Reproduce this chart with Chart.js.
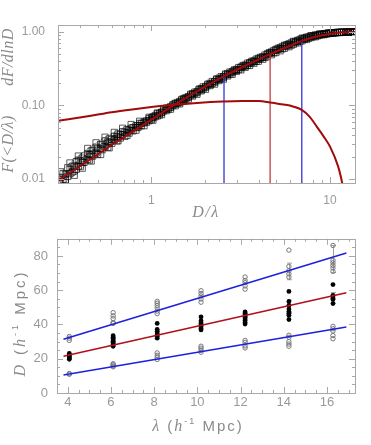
<!DOCTYPE html>
<html>
<head>
<meta charset="utf-8">
<script src="https://cdn.jsdelivr.net/npm/chart.js@4.4.1/dist/chart.umd.min.js"></script>
<style>
  body { margin: 0; background: #fff; }
  canvas { display: block; }
</style>
</head>
<body>
<canvas id="cdfChart" width="371" height="222"></canvas>
<canvas id="sizeChart" width="371" height="223"></canvas>
<script>
// ---- top panel: cumulative distribution of D/lambda ----
const gridA = [0.31, 0.35, 0.39, 0.44, 0.49, 0.55, 0.62, 0.69, 0.77, 0.86, 0.97, 1.08, 1.21, 1.36, 1.52, 1.70, 1.90, 2.13, 2.39, 2.67, 2.99, 3.35, 3.75, 4.20, 4.70, 5.26, 5.89, 6.60, 7.39, 8.27, 9.26, 10.4, 11.6, 13.0];
const gridB = [0.33, 0.37, 0.41, 0.46, 0.52, 0.58, 0.65, 0.73, 0.82, 0.91, 1.02, 1.14, 1.28, 1.44, 1.61, 1.80, 2.01, 2.26, 2.53, 2.83, 3.17, 3.55, 3.97, 4.45, 4.98, 5.57, 6.24, 6.98, 7.82, 8.76, 9.81, 11.0, 12.3, 13.7];
const gridC = [0.32, 0.36, 0.40, 0.45, 0.50, 0.57, 0.64, 0.71, 0.79, 0.88, 1.00, 1.11, 1.24, 1.40, 1.56, 1.75, 1.95, 2.19, 2.46, 2.75, 3.08, 3.45, 3.86, 4.32, 4.84, 5.41, 6.06, 6.79, 7.60, 8.51, 9.53, 10.7, 11.9, 13.4];
const gridD = [0.34, 0.38, 0.42, 0.47, 0.53, 0.60, 0.67, 0.75, 0.84, 0.94, 1.05, 1.17, 1.32, 1.48, 1.66, 1.85, 2.07, 2.32, 2.60, 2.91, 3.26, 3.65, 4.08, 4.58, 5.12, 5.73, 6.42, 7.18, 8.04, 9.01, 10.1, 11.3, 12.7, 13.6];

const mock1 = [0.0105, 0.0135, 0.018, 0.022, 0.027, 0.033, 0.038, 0.044, 0.049, 0.057, 0.066, 0.077, 0.090, 0.105, 0.124, 0.145, 0.170, 0.200, 0.235, 0.272, 0.31, 0.355, 0.405, 0.46, 0.535, 0.61, 0.69, 0.77, 0.85, 0.91, 0.95, 0.98, 0.995, 1.0];
const mock2 = [0.0092, 0.0118, 0.0150, 0.0185, 0.0225, 0.0275, 0.034, 0.040, 0.046, 0.053, 0.062, 0.072, 0.085, 0.099, 0.115, 0.134, 0.158, 0.186, 0.218, 0.252, 0.29, 0.33, 0.375, 0.425, 0.49, 0.555, 0.63, 0.71, 0.79, 0.86, 0.92, 0.96, 0.985, 0.998];
const mock3 = [0.0125, 0.0165, 0.0205, 0.026, 0.031, 0.037, 0.043, 0.049, 0.055, 0.061, 0.069, 0.079, 0.092, 0.107, 0.121, 0.140, 0.163, 0.192, 0.225, 0.262, 0.30, 0.345, 0.395, 0.45, 0.52, 0.595, 0.675, 0.755, 0.83, 0.895, 0.94, 0.975, 0.99, 1.0];
const mock4 = [0.0098, 0.0128, 0.0168, 0.0215, 0.026, 0.031, 0.037, 0.043, 0.050, 0.058, 0.068, 0.080, 0.094, 0.110, 0.129, 0.150, 0.176, 0.207, 0.240, 0.280, 0.325, 0.372, 0.425, 0.49, 0.565, 0.645, 0.73, 0.81, 0.88, 0.93, 0.965, 0.988, 0.998, 1.0];
const mock5 = [0.0115, 0.0150, 0.0192, 0.024, 0.0295, 0.035, 0.041, 0.047, 0.053, 0.060, 0.070, 0.081, 0.096, 0.113, 0.132, 0.154, 0.181, 0.212, 0.247, 0.288, 0.333, 0.382, 0.438, 0.505, 0.58, 0.66, 0.745, 0.825, 0.89, 0.94, 0.972, 0.99, 1.0, 1.0];
const mock6 = [0.0090, 0.0112, 0.0140, 0.0175, 0.0215, 0.0265, 0.033, 0.039, 0.046, 0.053, 0.063, 0.075, 0.089, 0.105, 0.122, 0.142, 0.166, 0.195, 0.228, 0.265, 0.305, 0.35, 0.40, 0.46, 0.525, 0.60, 0.68, 0.76, 0.84, 0.905, 0.95, 0.978, 0.993, 1.0];
const mock7 = [0.0118, 0.0148, 0.0178, 0.0215, 0.0262, 0.032, 0.038, 0.043, 0.050, 0.057, 0.068, 0.078, 0.092, 0.110, 0.128, 0.152, 0.179, 0.212, 0.247, 0.285, 0.328, 0.377, 0.427, 0.485, 0.56, 0.635, 0.71, 0.79, 0.86, 0.915, 0.955, 0.98, 0.995, 1.0];
const mock8 = [0.0099, 0.0124, 0.0147, 0.018, 0.0215, 0.027, 0.033, 0.038, 0.045, 0.053, 0.064, 0.074, 0.088, 0.106, 0.123, 0.145, 0.169, 0.199, 0.232, 0.268, 0.308, 0.352, 0.398, 0.45, 0.52, 0.59, 0.66, 0.745, 0.82, 0.885, 0.935, 0.97, 0.992, 1.0];
const mock9 = [0.0142, 0.0172, 0.0205, 0.0245, 0.029, 0.0345, 0.040, 0.046, 0.053, 0.062, 0.073, 0.087, 0.103, 0.121, 0.142, 0.167, 0.195, 0.230, 0.268, 0.305, 0.35, 0.40, 0.452, 0.525, 0.60, 0.67, 0.745, 0.825, 0.885, 0.935, 0.97, 0.99, 1.0, 1.0];
const mock10 = [0.0108, 0.0135, 0.0168, 0.0205, 0.025, 0.0305, 0.036, 0.042, 0.050, 0.059, 0.070, 0.084, 0.100, 0.118, 0.138, 0.163, 0.190, 0.224, 0.260, 0.297, 0.34, 0.388, 0.438, 0.51, 0.578, 0.645, 0.715, 0.795, 0.865, 0.92, 0.96, 0.985, 0.998, 1.0];

const fitX   = [0.30, 0.40, 0.50, 0.60, 0.75, 1.00, 1.33, 1.80, 2.55, 3.50, 4.62, 5.80, 6.95, 8.30, 10.0, 11.5, 13.8];
const fitCdf = [0.0095, 0.0150, 0.0215, 0.0290, 0.041, 0.064, 0.100, 0.155, 0.250, 0.365, 0.500, 0.630, 0.750, 0.860, 0.945, 0.985, 1.000];

const densX = [0.30, 0.45, 0.60, 0.80, 1.00, 1.33, 1.80, 2.50, 3.20, 4.00, 4.62, 5.50, 6.20, 6.95, 7.70, 8.43, 9.20, 10.0, 11.1, 11.7, 12.2];
const densY = [0.062, 0.072, 0.081, 0.089, 0.095, 0.102, 0.108, 0.113, 0.115, 0.115, 0.110, 0.103, 0.097, 0.087, 0.070, 0.0515, 0.038, 0.0275, 0.0148, 0.0088, 0.005];

const quartX = [2.55, 4.62, 6.95];
const quartF = [0.25, 0.50, 0.75];

const topXTicks = [1, 10];
const topXMinor = [0.3, 0.4, 0.5, 0.6, 0.7, 0.8, 0.9, 2, 3, 4, 5, 6, 7, 8, 9];
const topYTicks = [0.01, 0.1, 1];
const topYMinor = [0.02, 0.03, 0.04, 0.05, 0.06, 0.07, 0.08, 0.09, 0.2, 0.3, 0.4, 0.5, 0.6, 0.7, 0.8, 0.9];

// ---- bottom panel: D versus lambda ----
const lambdaCols = [4.07, 6.10, 8.14, 10.17, 12.21, 14.24, 16.28];
const upperD = [
  [33, 32, 30.7],
  [46.9, 45, 43.4, 41.1, 40.6],
  [53.5, 52.4, 51.1, 49.7, 47.8, 46.3],
  [59.7, 58.1, 56.6, 54.9, 53],
  [67.7, 65.7, 64.4, 62.5, 60.6],
  [83.4, 73.9, 71.4, 69.5, 67.7],
  [86.1, 77.4, 76, 74.5, 73, 71]
];
const middleD = [
  [23.1, 22.3, 21.6, 21, 20.4, 19.7],
  [33.4, 32.5, 31.6, 31, 30.2, 29.5, 28.8, 28.1, 27.3],
  [40.6, 37.1, 36, 35, 34, 33, 32],
  [44.4, 42.1, 41, 40.2, 39.5, 38.6, 37.7, 36.8],
  [47.3, 46.5, 45.6, 44.8, 44, 43.2, 42.3, 41.2, 40.2],
  [59.3, 53.4, 51.1, 49, 47.5, 46.5, 45.4, 42.9],
  [63.3, 57, 56, 55.2, 54.5, 52.2]
];
const lowerD = [
  [11.4, 10.9],
  [17.1, 16.5, 15.8, 15.3],
  [23.4, 22, 20.8, 19.6],
  [27.3, 26.2, 25, 23.8],
  [30.7, 29.5, 27.5, 26.3],
  [33.7, 32.5, 30, 28.6, 27.3],
  [38.9, 37.5, 36.2, 33.5, 31.7]
];
const errLambda = [14.24, 14.24, 16.28, 16.28];
const errLo = [66.1, 47.0, 70.3, 52.5];
const errHi = [75.8, 54.2, 86.1, 58.6];

const fitLambda = [3.8, 16.9];
const upperFit  = [31.4, 81.7];
const medianFit = [21.5, 58.5];
const lowerFit  = [10.5, 38.5];

const botXTicks = [4, 6, 8, 10, 12, 14, 16];
const botXMinor = [3.5, 4.5, 5, 5.5, 6.5, 7, 7.5, 8.5, 9, 9.5, 10.5, 11, 11.5, 12.5, 13, 13.5, 14.5, 15, 15.5, 16.5, 17];
const botYTicks = [0, 20, 40, 60, 80];
const botYMinor = [5, 10, 15, 25, 30, 35, 45, 50, 55, 65, 70, 75, 85];

const gray = '#9a9a9a';
const tickFont = { family: 'Liberation Sans', size: 12 };

// inward IDL-style ticks and frame
const idlFrame = {
  id: 'idlFrame',
  afterDatasetsDraw(chart, args, opts) {
    const { ctx, chartArea: a, scales: { x, y } } = chart;
    ctx.save();
    ctx.strokeStyle = '#a8a8a8';
    ctx.lineWidth = 1;
    ctx.beginPath();
    const tick = (vals, len, horiz) => {
      vals.forEach(v => {
        if (horiz) {
          const px = Math.round(x.getPixelForValue(v)) + 0.5;
          ctx.moveTo(px, a.bottom); ctx.lineTo(px, a.bottom - len);
          ctx.moveTo(px, a.top); ctx.lineTo(px, a.top + len);
        } else {
          const py = Math.round(y.getPixelForValue(v)) + 0.5;
          ctx.moveTo(a.left, py); ctx.lineTo(a.left + len, py);
          ctx.moveTo(a.right, py); ctx.lineTo(a.right - len, py);
        }
      });
    };
    tick(opts.xMajor, 6, true); tick(opts.xMinor, 3, true);
    tick(opts.yMajor, 6, false); tick(opts.yMinor, 3, false);
    ctx.stroke();
    ctx.strokeRect(Math.round(a.left) + 0.5, Math.round(a.top) + 0.5,
      Math.round(a.right - a.left), Math.round(a.bottom - a.top));
    ctx.restore();
  }
};

// text made of pieces with different fonts
function drawRich(ctx, parts, cx, cy, rot, spacing) {
  ctx.save();
  ctx.translate(cx, cy);
  ctx.rotate(rot);
  ctx.fillStyle = '#8a8a8a';
  ctx.textBaseline = 'middle';
  ctx.letterSpacing = spacing + 'px';
  let total = 0;
  parts.forEach(p => { ctx.font = p.f; p.w = ctx.measureText(p.t).width; total += p.w; });
  let x = -total / 2;
  parts.forEach(p => { ctx.font = p.f; ctx.fillText(p.t, x, p.dy || 0); x += p.w; });
  ctx.restore();
}

const serifIt = 'italic 16px "Liberation Serif"';
const sans = '15px "Liberation Sans"';
const supFont = '9px "Liberation Sans"';

const squareStyle = {
  showLine: true,
  borderColor: 'rgba(0,0,0,0.4)',
  borderWidth: 0.7,
  pointStyle: 'rect',
  pointRadius: 4.4,
  pointBorderWidth: 0.8,
  pointBorderColor: 'rgba(0,0,0,0.8)',
  pointBackgroundColor: 'rgba(0,0,0,0)',
  order: 10
};
const mocks = [
  [gridA, mock1], [gridA, mock2], [gridA, mock3],
  [gridB, mock4], [gridB, mock5], [gridB, mock6],
  [gridC, mock7], [gridC, mock8], [gridD, mock9], [gridD, mock10]
];

const topSets = mocks.map(([gx, gy]) => Object.assign({
  data: gx.map((v, i) => ({ x: v, y: gy[i] }))
}, squareStyle));

topSets.push({
  data: fitCdf.map((v, i) => ({ x: fitX[i], y: v })),
  borderColor: '#a00a0a', borderWidth: 2, pointRadius: 0, showLine: true,
  cubicInterpolationMode: 'monotone', order: 1
});
topSets.push({
  data: densY.map((v, i) => ({ x: densX[i], y: v })),
  borderColor: '#a00a0a', borderWidth: 2, pointRadius: 0, showLine: true,
  cubicInterpolationMode: 'monotone', order: 1
});
quartX.forEach((q, i) => {
  topSets.push({
    data: [{ x: q, y: 0.005 }, { x: q, y: quartF[i] }],
    borderColor: i === 1 ? '#c23c3c' : '#3434d6', borderWidth: 1.3,
    pointRadius: 0, showLine: true, order: 2
  });
});

new Chart(document.getElementById('cdfChart'), {
  type: 'scatter',
  data: { datasets: topSets },
  options: {
    responsive: false,
    animation: false,
    events: [],
    layout: { padding: { top: 25, right: 16, left: 0, bottom: 0 } },
    plugins: {
      legend: { display: false },
      tooltip: { enabled: false },
      idlFrame: { xMajor: topXTicks, xMinor: topXMinor, yMajor: topYTicks, yMinor: topYMinor }
    },
    scales: {
      x: {
        type: 'logarithmic', min: 0.30, max: 13.8,
        grid: { display: false, drawTicks: false }, border: { display: false },
        afterBuildTicks: s => { s.ticks = topXTicks.map(v => ({ value: v })); },
        afterFit: s => { s.height = 39; },
        ticks: { color: gray, font: tickFont, padding: 10, maxRotation: 0, autoSkip: false, callback: v => String(v) }
      },
      y: {
        type: 'logarithmic', min: 0.0088, max: 1.245,
        grid: { display: false, drawTicks: false }, border: { display: false },
        afterBuildTicks: s => { s.ticks = topYTicks.map(v => ({ value: v })); },
        afterFit: s => { s.width = 58; },
        ticks: { color: gray, font: tickFont, padding: 13, autoSkip: false, callback: v => Number(v).toFixed(2) }
      }
    }
  },
  plugins: [idlFrame, {
    id: 'topTitles',
    afterDraw(chart) {
      const ctx = chart.ctx;
      drawRich(ctx, [{ t: 'F(<D/λ)', f: serifIt }], 9, 144, -Math.PI / 2, 0.5);
      drawRich(ctx, [{ t: 'dF/dlnD', f: serifIt }], 9, 57, -Math.PI / 2, 0.5);
      drawRich(ctx, [{ t: 'D/λ', f: serifIt }], 206, 213, 0, 1.5);
    }
  }]
});

// bottom chart
const colPoints = groups => {
  const pts = [];
  groups.forEach((g, c) => g.forEach(d => pts.push({ x: lambdaCols[c], y: d })));
  return pts;
};
const lineSet = (vals, color) => ({
  data: vals.map((v, i) => ({ x: fitLambda[i], y: v })),
  borderColor: color, borderWidth: 1.6, pointRadius: 0, showLine: true, order: 1
});

const errorBars = {
  id: 'errorBars',
  beforeDatasetsDraw(chart) {
    const { ctx, scales: { x, y } } = chart;
    ctx.save();
    ctx.strokeStyle = '#a0a0a0';
    ctx.lineWidth = 1;
    ctx.beginPath();
    errLambda.forEach((l, i) => {
      const px = Math.round(x.getPixelForValue(l)) + 0.5;
      const lo = y.getPixelForValue(errLo[i]);
      const hi = y.getPixelForValue(errHi[i]);
      ctx.moveTo(px, lo); ctx.lineTo(px, hi);
      ctx.moveTo(px - 2.5, lo); ctx.lineTo(px + 2.5, lo);
      ctx.moveTo(px - 2.5, hi); ctx.lineTo(px + 2.5, hi);
    });
    ctx.stroke();
    ctx.restore();
  }
};

new Chart(document.getElementById('sizeChart'), {
  type: 'scatter',
  data: {
    datasets: [
      lineSet(upperFit, '#1f1fe0'),
      lineSet(medianFit, '#b0101a'),
      lineSet(lowerFit, '#1f1fe0'),
      {
        data: colPoints(middleD),
        pointRadius: 2.4, pointBorderWidth: 0,
        pointBackgroundColor: '#000', order: 5
      },
      {
        data: colPoints(upperD).concat(colPoints(lowerD)),
        pointRadius: 2.2, pointBorderWidth: 1,
        pointBorderColor: '#777', pointBackgroundColor: 'rgba(0,0,0,0)', order: 6
      }
    ]
  },
  options: {
    responsive: false,
    animation: false,
    events: [],
    layout: { padding: { top: 13, right: 16, left: 0, bottom: 0 } },
    plugins: {
      legend: { display: false },
      tooltip: { enabled: false },
      idlFrame: { xMajor: botXTicks, xMinor: botXMinor, yMajor: botYTicks, yMinor: botYMinor }
    },
    scales: {
      x: {
        type: 'linear', min: 3.5, max: 17.3,
        grid: { display: false, drawTicks: false }, border: { display: false },
        afterBuildTicks: s => { s.ticks = botXTicks.map(v => ({ value: v })); },
        afterFit: s => { s.height = 52; },
        ticks: { color: gray, font: { family: 'Liberation Sans', size: 13 }, padding: 2, maxRotation: 0, autoSkip: false }
      },
      y: {
        type: 'linear', min: 0, max: 90,
        grid: { display: false, drawTicks: false }, border: { display: false },
        afterBuildTicks: s => { s.ticks = botYTicks.map(v => ({ value: v })); },
        afterFit: s => { s.width = 57; },
        ticks: { color: gray, font: { family: 'Liberation Sans', size: 13 }, padding: 9, autoSkip: false }
      }
    }
  },
  plugins: [idlFrame, errorBars, {
    id: 'botTitles',
    afterDraw(chart) {
      const ctx = chart.ctx;
      drawRich(ctx, [
        { t: 'D', f: serifIt }, { t: ' (', f: sans }, { t: 'h', f: serifIt },
        { t: '-1', f: supFont, dy: -5 }, { t: ' Mpc)', f: sans }
      ], 21, 101, -Math.PI / 2, 3);
      drawRich(ctx, [
        { t: 'λ', f: serifIt }, { t: ' (', f: sans }, { t: 'h', f: serifIt },
        { t: '-1', f: supFont, dy: -5 }, { t: ' Mpc)', f: sans }
      ], 198, 205, 0, 2);
    }
  }]
});
</script>
</body>
</html>
